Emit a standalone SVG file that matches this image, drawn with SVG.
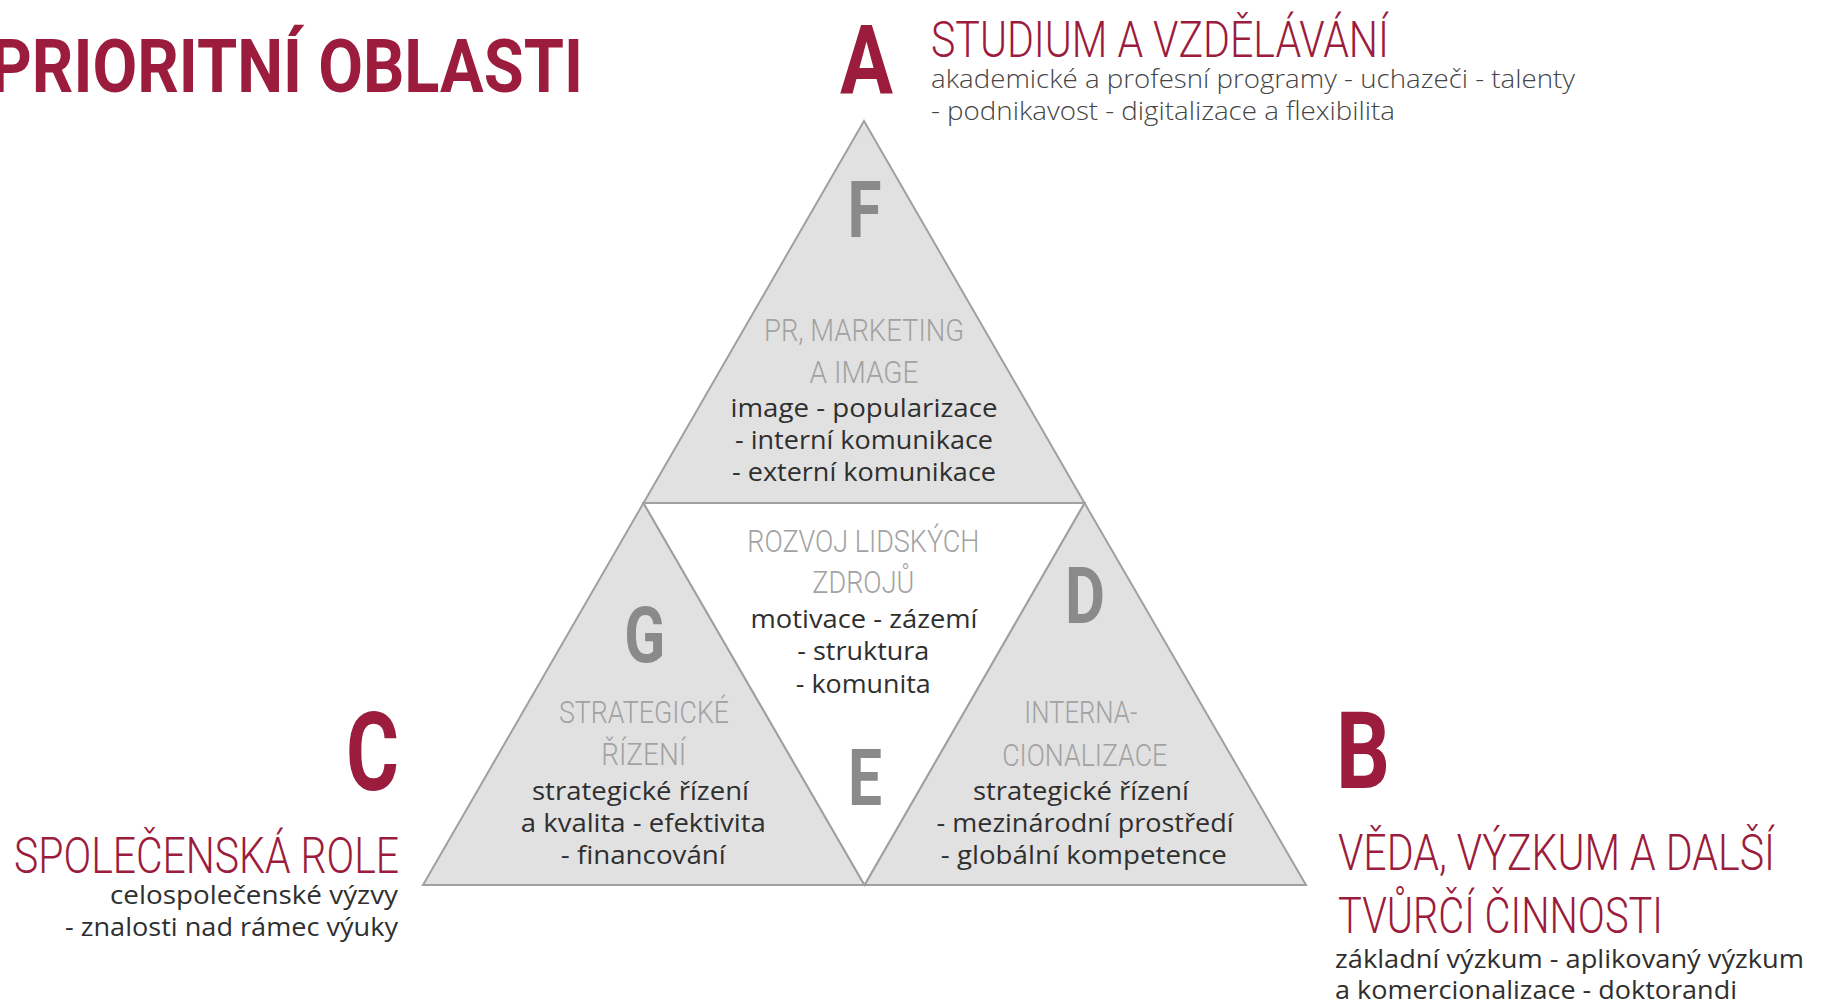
<svg xmlns="http://www.w3.org/2000/svg" width="1825" height="1004" viewBox="0 0 1825 1004">
<style>
.bg{fill:#ffffff}
.tri{fill:#e1e1e1;stroke:#a0a0a0;stroke-width:2;stroke-linejoin:miter}
.mid{fill:#ffffff;stroke:#a0a0a0;stroke-width:2}
.big{font-family:Roboto,"Liberation Sans",sans-serif;font-weight:700}
.crim{fill:#9b1c3c}
.gl{fill:#8a8a8a;font-size:77px}
.hd{font-family:Roboto,"Liberation Sans",sans-serif;font-weight:300}
.ch{fill:#9b1c3c;font-size:50px}
.gh{fill:#a2a2a2;font-size:31.5px}
.body{font-family:"Open Sans","Noto Sans","Liberation Sans",sans-serif;font-size:25px;fill:#2f2f2f;font-weight:400}
.lite{font-family:"Open Sans","Noto Sans","Liberation Sans",sans-serif;font-size:25px;fill:#444444;font-weight:300}
.m{text-anchor:middle}
.e{text-anchor:end}
</style>
<rect class="bg" x="0" y="0" width="1825" height="1004"/>

<g id="title">
<text class="big crim" x="-10" y="92" font-size="74" textLength="593" lengthAdjust="spacingAndGlyphs">PRIORITNÍ OBLASTI</text>
</g>

<g id="connectors"></g>

<g id="node-F">
<polygon class="tri" points="864,121 643.5,503 1084.5,503"/>
<text class="big gl m" x="864.5" y="237.3" textLength="34" lengthAdjust="spacingAndGlyphs">F</text>
<text class="hd gh m" x="864" y="340.7" textLength="200" lengthAdjust="spacingAndGlyphs">PR, MARKETING</text>
<text class="hd gh m" x="864" y="383" textLength="109" lengthAdjust="spacingAndGlyphs">A IMAGE</text>
<text class="body m" x="864" y="416.7" textLength="267" lengthAdjust="spacingAndGlyphs">image - popularizace</text>
<text class="body m" x="864" y="448.5" textLength="258" lengthAdjust="spacingAndGlyphs">- interní komunikace</text>
<text class="body m" x="864" y="481" textLength="264" lengthAdjust="spacingAndGlyphs">- externí komunikace</text>
</g>

<g id="node-G">
<polygon class="tri" points="643.5,503 423,885 864.5,885"/>
<text class="big gl m" x="644.7" y="661.7" textLength="41" lengthAdjust="spacingAndGlyphs">G</text>
<text class="hd gh m" x="644" y="723.3" textLength="170" lengthAdjust="spacingAndGlyphs">STRATEGICKÉ</text>
<text class="hd gh m" x="643.7" y="765" textLength="85" lengthAdjust="spacingAndGlyphs">ŘÍZENÍ</text>
<text class="body m" x="640.5" y="800" textLength="217" lengthAdjust="spacingAndGlyphs">strategické řízení</text>
<text class="body m" x="643.3" y="832" textLength="245" lengthAdjust="spacingAndGlyphs">a kvalita - efektivita</text>
<text class="body m" x="643.3" y="864" textLength="165" lengthAdjust="spacingAndGlyphs">- financování</text>
</g>

<g id="node-D">
<polygon class="tri" points="1084.5,503 864.5,885 1306,885"/>
<text class="big gl m" x="1085" y="623.3" textLength="40" lengthAdjust="spacingAndGlyphs">D</text>
<text class="hd gh m" x="1080.8" y="723.3" textLength="113" lengthAdjust="spacingAndGlyphs">INTERNA-</text>
<text class="hd gh m" x="1084.7" y="765.5" textLength="165" lengthAdjust="spacingAndGlyphs">CIONALIZACE</text>
<text class="body m" x="1081" y="800" textLength="216" lengthAdjust="spacingAndGlyphs">strategické řízení</text>
<text class="body m" x="1085" y="832" textLength="297" lengthAdjust="spacingAndGlyphs">- mezinárodní prostředí</text>
<text class="body m" x="1083.8" y="864" textLength="286" lengthAdjust="spacingAndGlyphs">- globální kompetence</text>
</g>

<g id="node-E">
<polygon class="mid" points="643.5,503 1084.5,503 864.5,885"/>
<text class="hd gh m" x="863.3" y="551.5" textLength="232" lengthAdjust="spacingAndGlyphs">ROZVOJ LIDSKÝCH</text>
<text class="hd gh m" x="863.3" y="593" textLength="102" lengthAdjust="spacingAndGlyphs">ZDROJŮ</text>
<text class="body m" x="864" y="627.5" textLength="227" lengthAdjust="spacingAndGlyphs">motivace - zázemí</text>
<text class="body m" x="863.3" y="660" textLength="132" lengthAdjust="spacingAndGlyphs">- struktura</text>
<text class="body m" x="863.3" y="692.5" textLength="135" lengthAdjust="spacingAndGlyphs">- komunita</text>
<text class="big gl m" x="865" y="805" textLength="34" lengthAdjust="spacingAndGlyphs">E</text>
</g>

<g id="node-A">
<text class="big crim" x="840" y="93.3" font-size="96" textLength="53" lengthAdjust="spacingAndGlyphs">A</text>
<text class="hd ch" x="931" y="57" font-size="48" textLength="458" lengthAdjust="spacingAndGlyphs">STUDIUM A VZDĚLÁVÁNÍ</text>
<text class="lite" x="931" y="87.5" textLength="644" lengthAdjust="spacingAndGlyphs">akademické a profesní programy - uchazeči - talenty</text>
<text class="lite" x="931" y="120" textLength="464" lengthAdjust="spacingAndGlyphs">- podnikavost - digitalizace a flexibilita</text>
</g>

<g id="node-B">
<text class="big crim" x="1336" y="788.3" font-size="107" textLength="54" lengthAdjust="spacingAndGlyphs">B</text>
<text class="hd ch" x="1338" y="870" textLength="437" lengthAdjust="spacingAndGlyphs">VĚDA, VÝZKUM A DALŠÍ</text>
<text class="hd ch" x="1338" y="932.7" textLength="325" lengthAdjust="spacingAndGlyphs">TVŮRČÍ ČINNOSTI</text>
<text class="body" x="1335" y="968" textLength="469" lengthAdjust="spacingAndGlyphs">základní výzkum - aplikovaný výzkum</text>
<text class="body" x="1335" y="999" textLength="402" lengthAdjust="spacingAndGlyphs">a komercionalizace - doktorandi</text>
</g>

<g id="node-C">
<text class="big crim" x="346" y="790" font-size="110" textLength="53" lengthAdjust="spacingAndGlyphs">C</text>
<text class="hd ch" x="14" y="873.3" font-size="51.5" textLength="385" lengthAdjust="spacingAndGlyphs">SPOLEČENSKÁ ROLE</text>
<text class="body e" x="398" y="904" textLength="288" lengthAdjust="spacingAndGlyphs">celospolečenské výzvy</text>
<text class="body e" x="398" y="935.5" textLength="333" lengthAdjust="spacingAndGlyphs">- znalosti nad rámec výuky</text>
</g>
</svg>
